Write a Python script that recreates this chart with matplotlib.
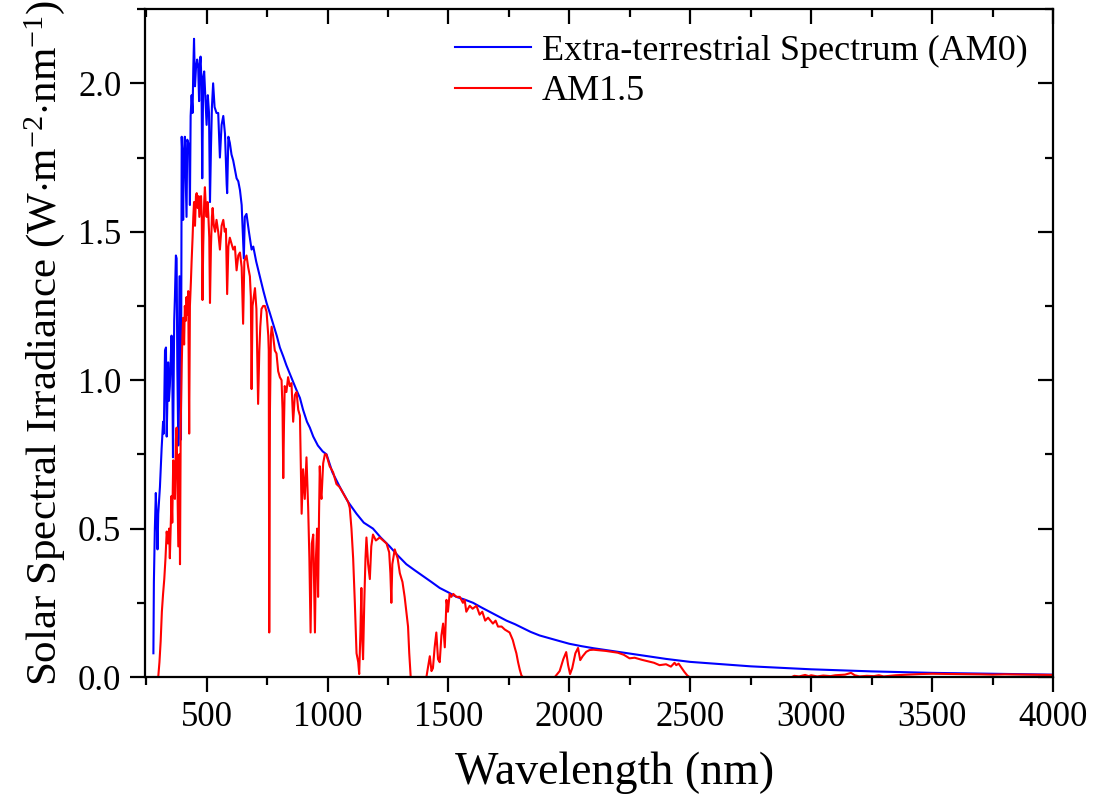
import matplotlib
matplotlib.use("Agg")
import matplotlib.pyplot as plt
from matplotlib.ticker import MultipleLocator

# values (nm, W m^-2 nm^-1)
am0_wl = [280, 282, 286, 290, 294, 297, 300, 307, 314, 320, 323, 328, 332, 335, 341, 344, 348,
          355, 358, 361, 366, 369, 373, 376, 379, 383, 388, 391, 394, 397, 400, 403, 406, 410,
          413, 417, 420, 424, 428, 431, 434, 438, 442, 445, 448, 452, 456, 461, 465, 469, 472,
          475, 479, 482, 486, 490, 495, 500, 505, 510, 514, 518, 522, 527, 533, 541, 548, 555,
          562, 569, 576, 583, 585, 590, 596, 603, 610, 617, 624, 631, 638, 645, 654, 658, 665,
          675, 686, 693, 705, 720, 735, 748, 760, 775, 790, 803, 817, 830, 845, 855, 870, 886,
          899, 915, 927, 941, 960, 980, 996, 1020, 1051, 1085, 1120, 1150, 1188, 1220, 1257,
          1290, 1326, 1360, 1395, 1430, 1464, 1500, 1533, 1570, 1602, 1635, 1670, 1705, 1740,
          1775, 1808, 1840, 1877, 1920, 1960, 2000, 2050, 2100, 2150, 2200, 2300, 2400, 2500,
          2600, 2750, 2900, 3000, 3250, 3500, 3750, 4000]
am0_val = [0.08, 0.32, 0.50, 0.62, 0.52, 0.43, 0.55, 0.64, 0.77, 0.86, 0.82, 1.10, 1.11, 0.81,
           1.06, 0.93, 0.98, 1.15, 1.05, 0.74, 1.20, 1.28, 1.42, 1.41, 1.04, 0.78, 1.35, 1.06,
           0.80, 1.82, 1.75, 1.54, 1.76, 1.82, 1.70, 1.55, 1.81, 1.80, 1.77, 1.59, 1.89, 1.96,
           1.90, 2.05, 2.15, 1.99, 2.05, 2.08, 2.06, 1.94, 2.06, 2.09, 2.00, 1.68, 2.02, 2.04,
           1.95, 1.86, 1.96, 1.90, 1.60, 1.78, 1.92, 2.00, 1.92, 1.90, 1.90, 1.75, 1.86, 1.89,
           1.83, 1.66, 1.63, 1.82, 1.80, 1.76, 1.74, 1.71, 1.68, 1.67, 1.64, 1.59, 1.41, 1.55,
           1.56, 1.50, 1.44, 1.45, 1.40, 1.35, 1.30, 1.26, 1.23, 1.19, 1.15, 1.11, 1.08, 1.05,
           1.02, 1.00, 0.97, 0.94, 0.90, 0.86, 0.84, 0.81, 0.78, 0.76, 0.75, 0.69, 0.64, 0.59,
           0.55, 0.52, 0.50, 0.47, 0.44, 0.41, 0.38, 0.36, 0.34, 0.32, 0.30, 0.285, 0.27, 0.26,
           0.25, 0.235, 0.22, 0.205, 0.19, 0.178, 0.165, 0.152, 0.14, 0.13, 0.121, 0.112,
           0.104, 0.097, 0.091, 0.085, 0.073, 0.061, 0.051, 0.045, 0.036, 0.030, 0.026, 0.019,
           0.014, 0.011, 0.008]

am15_wl = [280, 295, 300, 305, 310, 315, 320, 325, 330, 335, 340, 345, 348, 352, 355, 358, 362,
           366, 369, 373, 376, 380, 383, 387, 390, 393, 397, 400, 403, 407, 410, 414, 417, 420,
           424, 428, 431, 435, 438, 442, 445, 448, 452, 456, 459, 463, 467, 470, 473, 477, 480,
           483, 486, 490, 493, 497, 500, 504, 507, 511, 514, 518, 522, 525, 530, 535, 541, 548,
           555, 562, 569, 575, 580, 585, 590, 596, 603, 610, 617, 624, 631, 638, 645, 651, 656,
           665, 672, 679, 683, 686, 690, 700, 706, 713, 718, 722, 727, 734, 741, 748, 755, 757,
           759, 762, 766, 769, 775, 782, 789, 796, 803, 810, 814, 817, 820, 823, 830, 837, 844,
           851, 858, 865, 872, 879, 886, 893, 899, 906, 913, 920, 925, 930, 935, 941, 945, 948,
           952, 957, 961, 965, 968, 972, 975, 982, 989, 995, 1009, 1023, 1037, 1050, 1064, 1078,
           1085, 1092, 1099, 1106, 1113, 1120, 1127, 1131, 1136, 1140, 1144, 1147, 1152, 1157,
           1161, 1168, 1175, 1181, 1188, 1200, 1216, 1230, 1244, 1255, 1260, 1264, 1268, 1278,
           1290, 1299, 1310, 1319, 1326, 1333, 1338, 1344, 1409, 1415, 1423, 1430, 1436, 1443,
           1450, 1457, 1464, 1471, 1478, 1485, 1492, 1498, 1505, 1512, 1520, 1533, 1547, 1560,
           1567, 1574, 1588, 1600, 1616, 1629, 1640, 1652, 1664, 1684, 1695, 1705, 1720, 1733,
           1753, 1766, 1774, 1781, 1788, 1795, 1802, 1808, 1940, 1960, 1975, 1987, 1995, 2003,
           2012, 2025, 2036, 2045, 2055, 2070, 2084, 2100, 2125, 2150, 2175, 2200, 2225, 2249,
           2270, 2300, 2330, 2350, 2373, 2400, 2420, 2435, 2442, 2452, 2465, 2476, 2488, 2497,
           2920, 2930, 2950, 2975, 2990, 3000, 3025, 3050, 3080, 3100, 3140, 3165, 3180, 3200,
           3230, 3260, 3280, 3300, 3350, 3400, 3450, 3500, 3600, 3700, 3750, 3800, 3900, 4000]
am15_val = [0.0, 0.0, 0.0, 0.05, 0.12, 0.22, 0.28, 0.33, 0.40, 0.49, 0.45, 0.50, 0.40, 0.52,
            0.61, 0.52, 0.73, 0.62, 0.60, 0.80, 0.84, 0.62, 0.44, 0.75, 0.38, 0.85, 1.05, 1.15,
            1.21, 1.12, 1.25, 1.20, 1.28, 1.22, 1.30, 0.82, 1.25, 1.33, 1.40, 1.48, 1.55, 1.60,
            1.52, 1.62, 1.63, 1.58, 1.62, 1.55, 1.58, 1.62, 1.55, 1.27, 1.45, 1.60, 1.65, 1.58,
            1.55, 1.60, 1.56, 1.48, 1.26, 1.45, 1.55, 1.58, 1.52, 1.50, 1.54, 1.50, 1.44, 1.52,
            1.54, 1.50, 1.51, 1.29, 1.45, 1.48, 1.46, 1.44, 1.45, 1.37, 1.42, 1.43, 1.38, 1.19,
            1.40, 1.42, 1.38, 1.35, 1.28, 0.97, 1.25, 1.31, 1.24, 0.92, 1.10, 1.18, 1.24, 1.25,
            1.25, 1.23, 1.15, 1.10, 0.15, 0.90, 1.15, 1.18, 1.15, 1.10, 1.09, 1.03, 1.01, 1.00,
            0.90, 0.67, 0.85, 0.98, 0.96, 1.01, 0.98, 0.99, 0.86, 0.95, 0.96, 0.90, 0.88, 0.55,
            0.70, 0.60, 0.74, 0.57, 0.40, 0.15, 0.45, 0.48, 0.30, 0.15, 0.40, 0.50, 0.27, 0.55,
            0.71, 0.62, 0.60, 0.72, 0.75, 0.75, 0.71, 0.69, 0.65, 0.64, 0.62, 0.60, 0.59, 0.57,
            0.50, 0.40, 0.25, 0.08, 0.05, 0.01, 0.15, 0.30, 0.12, 0.06, 0.25, 0.40, 0.47, 0.38,
            0.33, 0.44, 0.48, 0.46, 0.47, 0.46, 0.45, 0.42, 0.35, 0.25, 0.38, 0.43, 0.40, 0.35,
            0.32, 0.27, 0.22, 0.17, 0.08, 0.0, 0.0, 0.03, 0.07, 0.02, 0.03, 0.10, 0.15, 0.06,
            0.05, 0.14, 0.18, 0.10, 0.26, 0.22, 0.28, 0.27, 0.28, 0.27, 0.27, 0.25, 0.26, 0.22,
            0.24, 0.23, 0.24, 0.21, 0.22, 0.19, 0.20, 0.18, 0.19, 0.17, 0.17, 0.16, 0.15, 0.125,
            0.10, 0.08, 0.05, 0.025, 0.005, 0.0, 0.0, 0.02, 0.06, 0.084, 0.04, 0.01, 0.03, 0.08,
            0.098, 0.057, 0.07, 0.085, 0.091, 0.092, 0.090, 0.088, 0.085, 0.082, 0.075, 0.063,
            0.065, 0.058, 0.052, 0.048, 0.040, 0.043, 0.035, 0.048, 0.04, 0.045, 0.03, 0.017,
            0.005, 0.0, 0.0, 0.004, 0.002, 0.007, 0.003, 0.006, 0.002, 0.005, 0.003, 0.006,
            0.008, 0.014, 0.006, 0.002, 0.004, 0.003, 0.006, 0.002, 0.006, 0.008, 0.010, 0.011,
            0.010, 0.009, 0.008, 0.009, 0.008, 0.007]

plt.rcParams["font.family"] = ["Liberation Serif", "DejaVu Serif"]
plt.rcParams["mathtext.fontset"] = "custom"
plt.rcParams["mathtext.rm"] = "Liberation Serif"
plt.rcParams["mathtext.it"] = "Liberation Serif:italic"

fig = plt.figure(figsize=(10.98, 7.98), dpi=100)
ax = fig.add_axes([0.132, 0.1516, 0.827, 0.837])

ax.plot(am0_wl, am0_val, color="#0000ff", lw=1.5, label="Extra-terrestrial Spectrum (AM0)")
ax.plot(am15_wl, am15_val, color="#ff0000", lw=1.5, label="AM1.5")

ax.set_xlim(245, 4000)
ax.set_ylim(0, 2.25)
ax.xaxis.set_major_locator(MultipleLocator(500))
ax.xaxis.set_minor_locator(MultipleLocator(250))
ax.yaxis.set_major_locator(MultipleLocator(0.5))
ax.yaxis.set_minor_locator(MultipleLocator(0.25))
ax.yaxis.set_major_formatter(plt.FormatStrFormatter("%.1f"))

for s in ax.spines.values():
    s.set_linewidth(1.6)
ax.tick_params(which="both", direction="out", width=1.6, labelsize=25, pad=6)
ax.tick_params(which="major", length=11)
ax.tick_params(which="minor", length=6)
# top / right ticks point inward
ax.tick_params(which="both", top=True, right=True)
for t in ax.xaxis.get_ticklines(minor=False)[1::2] + ax.xaxis.get_ticklines(minor=True)[1::2]:
    t.set_marker(3)
for t in ax.yaxis.get_ticklines(minor=False)[1::2] + ax.yaxis.get_ticklines(minor=True)[1::2]:
    t.set_marker(0)

ax.set_xlabel("Wavelength (nm)", fontsize=33)
ax.xaxis.set_label_coords(0.517, -0.112)
ax.set_ylabel("Solar Spectral Irradiance (W$\\cdot$m$^{-2}$$\\cdot$nm$^{-1}$)", fontsize=31, labelpad=8)

ax.legend(loc="upper right", fontsize=26, frameon=False, handlelength=2.1,
          handletextpad=0.3, borderaxespad=0.3, labelspacing=0.2)

fig.savefig("out.png", dpi=100)
